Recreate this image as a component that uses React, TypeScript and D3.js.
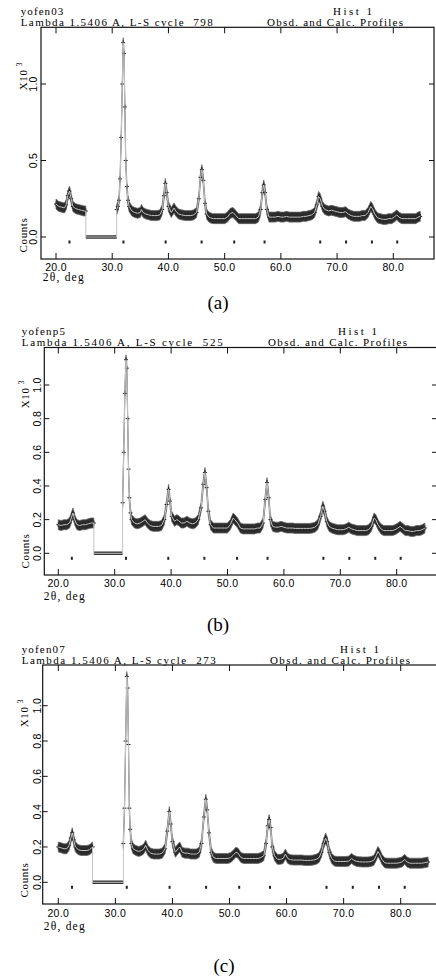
import * as d3 from "d3";

type Pt = [number, number];

// x ticks (2θ, deg), y ticks (counts x10^3) and reflection positions
const xTicks = [20, 30, 40, 50, 60, 70, 80];
const yTicksA = [0, 0.5, 1.0];
const yTicksBC = [0, 0.2, 0.4, 0.6, 0.8, 1.0];
const reflections = [22.4, 32.0, 39.5, 45.9, 51.7, 57.1, 67.0, 71.6, 76.2, 80.7];

const sampleNames = ["yofen03", "yofenp5", "yofen07"];
const cycles = [798, 525, 273];
const captions = ["(a)", "(b)", "(c)"];

// excluded 2θ regions (no data, counts = 0)
const excludedA = [25.3, 30.8];
const excludedB = [26.3, 31.4];
const excludedC = [26.0, 31.4];

const obsA1: Pt[] = [
  [20.0, 0.215], [20.5, 0.2], [21.0, 0.195], [21.5, 0.19], [21.8, 0.21], [22.1, 0.27],
  [22.4, 0.3], [22.7, 0.25], [23.0, 0.2], [23.5, 0.185], [24.0, 0.18], [24.5, 0.175],
  [25.0, 0.17], [25.3, 0.17],
];
const obsA2: Pt[] = [
  [30.8, 0.18], [31.0, 0.2], [31.2, 0.24], [31.4, 0.38], [31.6, 0.65], [31.8, 1.0],
  [31.95, 1.27], [32.1, 1.2], [32.25, 0.85], [32.4, 0.5], [32.6, 0.33], [32.8, 0.24],
  [33.0, 0.2], [33.5, 0.17], [34.0, 0.16], [34.5, 0.155], [35.0, 0.16], [35.2, 0.18],
  [35.5, 0.16], [36.0, 0.15], [36.5, 0.145], [37.0, 0.14], [37.5, 0.14], [38.0, 0.14],
  [38.5, 0.145], [38.9, 0.18], [39.2, 0.27], [39.45, 0.35], [39.7, 0.29], [40.0, 0.2],
  [40.5, 0.16], [41.0, 0.19], [41.3, 0.17], [41.8, 0.15], [42.3, 0.145], [43.0, 0.14],
  [43.5, 0.14], [44.0, 0.14], [44.5, 0.145], [45.0, 0.16], [45.4, 0.25], [45.7, 0.39],
  [45.95, 0.44], [46.2, 0.37], [46.5, 0.22], [46.8, 0.15], [47.2, 0.13], [47.5, 0.125],
  [48.0, 0.12], [48.5, 0.12], [49.0, 0.12], [49.5, 0.12], [50.0, 0.12], [50.5, 0.13],
  [51.0, 0.155], [51.5, 0.16], [52.0, 0.14], [52.5, 0.12], [53.0, 0.12], [53.5, 0.12],
  [54.0, 0.12], [54.5, 0.12], [55.0, 0.12], [55.5, 0.12], [56.0, 0.13], [56.4, 0.18],
  [56.7, 0.29], [56.95, 0.34], [57.2, 0.29], [57.5, 0.18], [57.9, 0.13], [58.5, 0.13],
  [59.0, 0.13], [59.5, 0.135], [60.0, 0.13], [60.5, 0.13], [61.0, 0.135], [61.5, 0.13],
  [62.0, 0.13], [62.5, 0.13], [63.0, 0.13], [63.5, 0.13], [64.0, 0.135], [64.5, 0.135],
  [65.0, 0.14], [65.5, 0.145], [66.0, 0.16], [66.4, 0.21], [66.7, 0.265], [67.0, 0.25],
  [67.4, 0.2], [67.8, 0.18], [68.5, 0.17], [69.0, 0.175], [69.5, 0.17], [70.0, 0.165],
  [70.5, 0.16], [71.0, 0.16], [71.5, 0.165], [72.0, 0.15], [72.5, 0.14], [73.0, 0.135],
  [73.5, 0.135], [74.0, 0.135], [74.5, 0.14], [75.0, 0.14], [75.5, 0.16], [76.0, 0.2],
  [76.3, 0.185], [76.7, 0.15], [77.2, 0.125], [77.7, 0.12], [78.2, 0.115], [78.7, 0.115],
  [79.2, 0.12], [79.7, 0.12], [80.2, 0.13], [80.6, 0.145], [81.0, 0.13], [81.5, 0.12],
  [82.0, 0.12], [82.5, 0.12], [83.0, 0.12], [83.5, 0.12], [84.0, 0.12], [84.4, 0.13],
  [84.8, 0.135],
];

// (b) yofenp5
const obsB1: Pt[] = [
  [20.0, 0.17], [20.5, 0.165], [21.0, 0.17], [21.5, 0.17], [22.0, 0.18], [22.3, 0.21],
  [22.6, 0.24], [22.9, 0.2], [23.3, 0.17], [23.8, 0.165], [24.3, 0.17], [24.8, 0.17],
  [25.3, 0.175], [25.8, 0.18], [26.3, 0.18],
];
const obsB2: Pt[] = [
  [31.4, 0.3], [31.6, 0.6], [31.8, 0.95], [32.0, 1.15], [32.15, 1.1], [32.3, 0.8],
  [32.45, 0.5], [32.6, 0.33], [32.8, 0.24], [33.0, 0.2], [33.5, 0.18], [34.0, 0.175],
  [34.5, 0.18], [35.0, 0.19], [35.4, 0.2], [35.8, 0.18], [36.3, 0.165], [36.8, 0.16],
  [37.3, 0.16], [37.8, 0.16], [38.3, 0.165], [38.8, 0.2], [39.2, 0.29], [39.55, 0.38],
  [39.8, 0.31], [40.1, 0.22], [40.6, 0.19], [41.0, 0.2], [41.3, 0.195], [41.8, 0.18],
  [42.3, 0.18], [42.8, 0.19], [43.3, 0.18], [43.8, 0.175], [44.3, 0.18], [44.8, 0.2],
  [45.3, 0.27], [45.7, 0.41], [46.0, 0.48], [46.3, 0.39], [46.6, 0.25], [47.0, 0.17],
  [47.5, 0.15], [48.0, 0.15], [48.5, 0.15], [49.0, 0.15], [49.5, 0.15], [50.0, 0.15],
  [50.5, 0.17], [51.0, 0.21], [51.3, 0.2], [51.8, 0.18], [52.3, 0.15], [52.8, 0.145],
  [53.3, 0.145], [53.8, 0.145], [54.3, 0.145], [54.8, 0.145], [55.3, 0.15], [55.8, 0.15],
  [56.3, 0.18], [56.7, 0.32], [57.0, 0.42], [57.3, 0.33], [57.6, 0.2], [58.0, 0.16],
  [58.5, 0.155], [59.0, 0.155], [59.5, 0.16], [60.0, 0.155], [60.5, 0.15], [61.0, 0.15],
  [61.5, 0.15], [62.0, 0.148], [62.5, 0.148], [63.0, 0.148], [63.5, 0.148], [64.0, 0.148],
  [64.5, 0.148], [65.0, 0.15], [65.5, 0.155], [66.0, 0.17], [66.5, 0.22], [66.9, 0.28],
  [67.2, 0.25], [67.6, 0.19], [68.0, 0.16], [68.5, 0.15], [69.0, 0.145], [69.5, 0.14],
  [70.0, 0.14], [70.5, 0.14], [71.0, 0.145], [71.5, 0.155], [72.0, 0.145], [72.5, 0.14],
  [73.0, 0.135], [73.5, 0.135], [74.0, 0.135], [74.5, 0.135], [75.0, 0.14], [75.5, 0.16],
  [76.0, 0.21], [76.3, 0.2], [76.7, 0.17], [77.2, 0.145], [77.7, 0.135], [78.2, 0.135],
  [78.7, 0.135], [79.2, 0.135], [79.7, 0.14], [80.2, 0.15], [80.6, 0.16], [81.0, 0.15],
  [81.5, 0.135], [82.0, 0.135], [82.5, 0.13], [83.0, 0.13], [83.5, 0.135], [84.0, 0.135],
  [84.5, 0.14], [85.0, 0.15],
];

// (c) yofen07
const obsC1: Pt[] = [
  [20.0, 0.2], [20.5, 0.195], [21.0, 0.19], [21.5, 0.19], [21.9, 0.21], [22.2, 0.25],
  [22.45, 0.28], [22.7, 0.24], [23.0, 0.2], [23.5, 0.185], [24.0, 0.18], [24.5, 0.18],
  [25.0, 0.18], [25.5, 0.185], [26.0, 0.2],
];
const obsC2: Pt[] = [
  [31.4, 0.22], [31.6, 0.42], [31.8, 0.8], [32.0, 1.165], [32.15, 1.1], [32.3, 0.78],
  [32.45, 0.42], [32.6, 0.3], [32.8, 0.22], [33.1, 0.19], [33.6, 0.18], [34.1, 0.175],
  [34.6, 0.18], [35.0, 0.19], [35.3, 0.21], [35.7, 0.18], [36.2, 0.165], [36.7, 0.16],
  [37.2, 0.16], [37.7, 0.16], [38.2, 0.165], [38.7, 0.19], [39.1, 0.29], [39.45, 0.4],
  [39.7, 0.33], [40.0, 0.23], [40.5, 0.17], [41.0, 0.19], [41.3, 0.2], [41.7, 0.17],
  [42.2, 0.165], [42.7, 0.165], [43.2, 0.16], [43.7, 0.16], [44.2, 0.16], [44.7, 0.17],
  [45.1, 0.22], [45.5, 0.37], [45.85, 0.47], [46.1, 0.41], [46.4, 0.28], [46.8, 0.17],
  [47.2, 0.14], [47.7, 0.135], [48.2, 0.135], [48.7, 0.135], [49.2, 0.135], [49.7, 0.135],
  [50.2, 0.14], [50.7, 0.155], [51.1, 0.17], [51.5, 0.165], [52.0, 0.14], [52.5, 0.135],
  [53.0, 0.135], [53.5, 0.135], [54.0, 0.135], [54.5, 0.135], [55.0, 0.135], [55.5, 0.14],
  [56.0, 0.15], [56.4, 0.22], [56.7, 0.32], [56.95, 0.355], [57.2, 0.31], [57.5, 0.2],
  [57.9, 0.15], [58.4, 0.13], [58.9, 0.13], [59.4, 0.135], [59.8, 0.16], [60.2, 0.135],
  [60.7, 0.128], [61.2, 0.126], [61.7, 0.126], [62.2, 0.126], [62.7, 0.126], [63.2, 0.124],
  [63.7, 0.124], [64.2, 0.124], [64.7, 0.126], [65.2, 0.13], [65.7, 0.14], [66.1, 0.17],
  [66.5, 0.22], [66.85, 0.25], [67.1, 0.23], [67.5, 0.17], [67.9, 0.135], [68.4, 0.12],
  [68.9, 0.118], [69.4, 0.118], [69.9, 0.118], [70.4, 0.118], [70.9, 0.12], [71.4, 0.135],
  [71.8, 0.125], [72.3, 0.118], [72.8, 0.116], [73.3, 0.115], [73.8, 0.115], [74.3, 0.115],
  [74.8, 0.118], [75.3, 0.125], [75.7, 0.15], [76.0, 0.175], [76.3, 0.16], [76.7, 0.13],
  [77.2, 0.11], [77.7, 0.108], [78.2, 0.108], [78.7, 0.108], [79.2, 0.108], [79.7, 0.11],
  [80.2, 0.115], [80.7, 0.13], [81.1, 0.115], [81.6, 0.108], [82.1, 0.108], [82.6, 0.108],
  [83.1, 0.108], [83.6, 0.108], [84.1, 0.11], [84.8, 0.115],
];

const SERIF = "'Liberation Serif', 'Times New Roman', serif";
const SANS = "'Liberation Sans', Arial, sans-serif";

function Panel({ idx, segs, excl, yTicks, L }) {
  const x = d3.scaleLinear().domain([20, 80]).range([L.x20, L.x80]);
  const y = d3.scaleLinear().domain([0, 1]).range([L.y0, L.y1]);
  const half = 5;
  const band = d3
    .area<Pt>()
    .x((d) => x(d[0]))
    .y0((d) => y(d[1]) + half)
    .y1((d) => y(d[1]) - half);
  const line = d3
    .line<Pt>()
    .x((d) => x(d[0]))
    .y((d) => y(d[1]));
  const zero: Pt[] = [
    [excl[0], 0],
    [excl[1], 0],
  ];
  const calc: Pt[] = [...segs[0], ...zero, ...segs[1]];
  const clipId = `clip-${idx}`;
  const fmt = d3.format(".1f");

  return (
    <g>
      <defs>
        <clipPath id={clipId}>
          <rect x={L.left} y={L.top} width={L.right - L.left} height={L.bottom - L.top} />
        </clipPath>
      </defs>

      {/* header */}
      <g fontFamily={SERIF} fontSize={11} fill="#000">
        <text x={L.tx} y={L.h1} textLength={L.nameW} lengthAdjust="spacing">
          {sampleNames[idx]}
        </text>
        <text x={L.histX} y={L.h1} textLength={39} lengthAdjust="spacing">
          Hist  1
        </text>
        <text x={L.tx} y={L.h2} textLength={L.lamW} lengthAdjust="spacing" xmlSpace="preserve">
          {`Lambda 1.5406 A, L-S cycle  ${cycles[idx]}`}
        </text>
        <text x={L.obsX} y={L.h2} textLength={L.obsW} lengthAdjust="spacing">
          Obsd. and Calc. Profiles
        </text>
      </g>

      {/* data */}
      <g clipPath={`url(#${clipId})`}>
        {segs.map((s, i) => (
          <path key={i} d={band(s)} fill="#2e2e2e" stroke="#666" strokeWidth={0.8} />
        ))}
        {segs.map((s, i) =>
          s.map((d, j) => (
            <path
              key={`${i}-${j}`}
              d={`M${x(d[0]) - 2},${y(d[1])}h4M${x(d[0])},${y(d[1]) - 2.5}v5`}
              stroke="#222"
              strokeWidth={1}
            />
          ))
        )}
        <path d={line(zero)} stroke="#333" strokeWidth={3.5} fill="none" />
        <path d={line(calc)} stroke="#c4c4c4" strokeWidth={1} fill="none" />
        {reflections.map((r) => (
          <rect key={r} x={x(r) - 1} y={y(0) + 3.5} width={2} height={3} fill="#222" />
        ))}
      </g>

      {/* frame */}
      <rect
        x={L.left}
        y={L.top}
        width={L.right - L.left}
        height={L.bottom - L.top}
        fill="none"
        stroke="#111"
        strokeWidth={1.2}
      />
      {xTicks.map((t) => (
        <g key={t}>
          <line x1={x(t)} x2={x(t)} y1={L.top} y2={L.top + 6} stroke="#111" />
          <line x1={x(t)} x2={x(t)} y1={L.bottom} y2={L.bottom - 6} stroke="#111" />
          <text
            x={x(t)}
            y={L.bottom + L.xlab}
            textAnchor="middle"
            fontFamily={SANS}
            fontSize={10.5}
            letterSpacing={0.3}
          >
            {fmt(t)}
          </text>
        </g>
      ))}
      {yTicks.map((t) => (
        <g key={t}>
          <line x1={L.left} x2={L.left + 5} y1={y(t)} y2={y(t)} stroke="#111" />
          <line x1={L.right} x2={L.right - 5} y1={y(t)} y2={y(t)} stroke="#111" />
          <text
            transform={`translate(${L.ylab},${y(t)}) rotate(-90)`}
            textAnchor="middle"
            fontFamily={SANS}
            fontSize={10.5}
            letterSpacing={0.3}
          >
            {fmt(t)}
          </text>
        </g>
      ))}

      {/* axis titles */}
      <text
        transform={`translate(${L.cx},${L.countsY}) rotate(-90)`}
        textAnchor="middle"
        fontFamily={SERIF}
        fontSize={11}
        letterSpacing={0.6}
      >
        Counts
      </text>
      <text
        transform={`translate(${L.cx},${L.x10Y}) rotate(-90)`}
        textAnchor="middle"
        fontFamily={SERIF}
        fontSize={11}
        letterSpacing={0.6}
      >
        X10
        <tspan dx={3} dy={-5} fontSize={8}>
          3
        </tspan>
      </text>
      <text
        x={L.tx + 22}
        y={L.bottom + L.degY}
        fontFamily={SERIF}
        fontSize={11.5}
        textLength={41}
        lengthAdjust="spacing"
      >
        2θ, deg
      </text>

      <text
        x={L.capX}
        y={L.capY}
        textAnchor="middle"
        fontFamily={SERIF}
        fontSize={19}
      >
        {captions[idx]}
      </text>
    </g>
  );
}

export default function App() {
  const layouts = [
    {
      x20: 56, x80: 393.3, left: 41, right: 434, top: 27.3, bottom: 259,
      y0: 237, y1: 84, tx: 20.7, h1: 15, h2: 25.5, nameW: 42.6, histX: 333,
      lamW: 192, obsX: 267, obsW: 136, xlab: 11.5, ylab: 37, cx: 26.5,
      countsY: 235, x10Y: 76, degY: 22, capX: 218, capY: 309,
    },
    {
      x20: 58.3, x80: 396.7, left: 44.3, right: 437, top: 347.5, bottom: 575,
      y0: 553.3, y1: 385, tx: 21.7, h1: 334.5, h2: 345.5, nameW: 43.3, histX: 338,
      lamW: 201, obsX: 268, obsW: 139, xlab: 11.8, ylab: 40.5, cx: 29.3,
      countsY: 551, x10Y: 394, degY: 24.5, capX: 218, capY: 631,
    },
    {
      x20: 58.3, x80: 400.7, left: 42.7, right: 442, top: 665, bottom: 904,
      y0: 882.3, y1: 705.7, tx: 21.7, h1: 652.5, h2: 663.5, nameW: 43, histX: 340,
      lamW: 194, obsX: 270, obsW: 140, xlab: 13, ylab: 41, cx: 28.3,
      countsY: 880, x10Y: 713, degY: 25.5, capX: 224, capY: 972,
    },
  ];
  const data = [
    { segs: [obsA1, obsA2], excl: excludedA, yTicks: yTicksA },
    { segs: [obsB1, obsB2], excl: excludedB, yTicks: yTicksBC },
    { segs: [obsC1, obsC2], excl: excludedC, yTicks: yTicksBC },
  ];
  return (
    <svg
      width={436}
      height={978}
      style={{ position: "absolute", left: 0, top: 0, background: "#fff" }}
    >
      {data.map((p, i) => (
        <Panel key={i} idx={i} segs={p.segs} excl={p.excl} yTicks={p.yTicks} L={layouts[i]} />
      ))}
    </svg>
  );
}
